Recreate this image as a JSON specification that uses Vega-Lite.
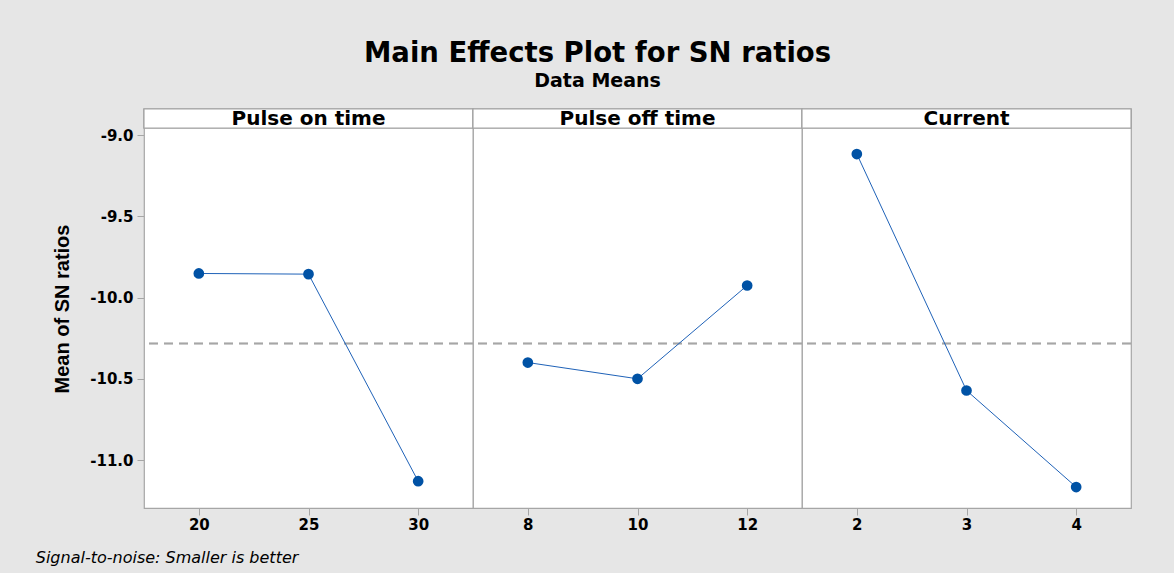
{
  "$schema": "https://vega.github.io/schema/vega-lite/v6.json",
  "autosize": {"type": "pad"},
  "background": "#e6e6e6",
  "padding": {"left": 35, "top": 40, "right": 44, "bottom": 12},
  "title": {
    "text": "Signal-to-noise: Smaller is better",
    "orient": "bottom",
    "anchor": "start",
    "font": "DejaVu Sans",
    "fontStyle": "italic",
    "fontWeight": "normal",
    "fontSize": 16,
    "color": "#000000",
    "offset": 17,
    "dx": -17
  },
  "datasets": {
    "effects": [
      {"factor": "Pulse on time", "level": 20, "sn": -9.852},
      {"factor": "Pulse on time", "level": 25, "sn": -9.856},
      {"factor": "Pulse on time", "level": 30, "sn": -11.13},
      {"factor": "Pulse off time", "level": 8, "sn": -10.40},
      {"factor": "Pulse off time", "level": 10, "sn": -10.50},
      {"factor": "Pulse off time", "level": 12, "sn": -9.926},
      {"factor": "Current", "level": 2, "sn": -9.117},
      {"factor": "Current", "level": 3, "sn": -10.572},
      {"factor": "Current", "level": 4, "sn": -11.166}
    ]
  },
  "vconcat": [
    {
      "title": {
        "text": "Main Effects Plot for SN ratios",
        "subtitle": "Data Means",
        "anchor": "middle",
        "dx": 5,
        "font": "DejaVu Sans",
        "fontSize": 27.5,
        "fontWeight": "bold",
        "color": "#000000",
        "subtitleFont": "DejaVu Sans",
        "subtitleFontSize": 19,
        "subtitleFontWeight": "bold",
        "subtitleColor": "#000000",
        "subtitlePadding": 4,
        "offset": 17
      },
      "data": {"name": "effects"},
      "facet": {
        "column": {
          "field": "factor",
          "type": "nominal",
          "sort": ["Pulse on time", "Pulse off time", "Current"],
          "header": null
        }
      },
      "spacing": 0,
      "bounds": "flush",
      "resolve": {"scale": {"x": "independent"}},
      "spec": {
        "width": 329,
        "height": 399,
        "layer": [
          {
            "mark": {"type": "rule", "stroke": "#a6a6a6", "strokeWidth": 1.5, "strokeDash": [9, 6]},
            "encoding": {
              "y": {"datum": -10.283, "type": "quantitative", "title": "Mean of SN ratios"}
            }
          },
          {
            "mark": {"type": "line", "stroke": "#1f62b8", "strokeWidth": 1},
            "encoding": {
              "x": {
                "field": "level",
                "type": "ordinal",
                "title": null,
                "scale": {"type": "point", "padding": 0.5},
                "axis": {"labelAngle": 0}
              },
              "y": {
                "field": "sn",
                "type": "quantitative",
                "title": "Mean of SN ratios",
                "scale": {"domain": [-11.295, -8.84], "nice": false, "zero": false},
                "axis": {
                  "values": [-11, -10.5, -10, -9.5, -9],
                  "labelExpr": "replace(format(datum.value, '.1f'), '\u2212', '-')"
                }
              }
            }
          },
          {
            "mark": {"type": "point", "filled": true, "fill": "#0052a5", "opacity": 1, "size": 115, "shape": "circle"},
            "encoding": {
              "x": {"field": "level", "type": "ordinal", "title": null},
              "y": {"field": "sn", "type": "quantitative", "title": "Mean of SN ratios"}
            }
          },
          {
            "mark": {"type": "rect", "fill": "#ffffff", "stroke": "#a6a6a6", "strokeWidth": 1.2},
            "encoding": {
              "y": {"datum": -8.957, "type": "quantitative", "title": "Mean of SN ratios"},
              "y2": {"datum": -8.84}
            }
          },
          {
            "transform": [{"filter": "datum.level == 25 || datum.level == 10 || datum.level == 3"}],
            "mark": {"type": "text", "font": "DejaVu Sans", "fontWeight": "bold", "fontSize": 20, "color": "#000000", "baseline": "middle", "dy": 1},
            "encoding": {
              "x": {"field": "level", "type": "ordinal", "title": null},
              "y": {"datum": -8.898, "type": "quantitative", "title": "Mean of SN ratios"},
              "text": {"field": "factor"}
            }
          }
        ]
      }
    }
  ],
  "config": {
    "view": {"stroke": "#a6a6a6", "strokeWidth": 1.2, "fill": "#ffffff"},
    "axis": {
      "grid": false,
      "domain": false,
      "tickColor": "#a6a6a6",
      "tickSize": 7,
      "labelFont": "DejaVu Sans",
      "labelFontWeight": "bold",
      "labelFontSize": 15,
      "labelColor": "#000000",
      "titleColor": "#000000"
    },
    "axisX": {"labelPadding": 2},
    "axisY": {
      "labelPadding": 4,
      "titleFont": "Liberation Sans",
      "titleFontSize": 20,
      "titleFontWeight": "bold",
      "titlePadding": 17
    }
  }
}
